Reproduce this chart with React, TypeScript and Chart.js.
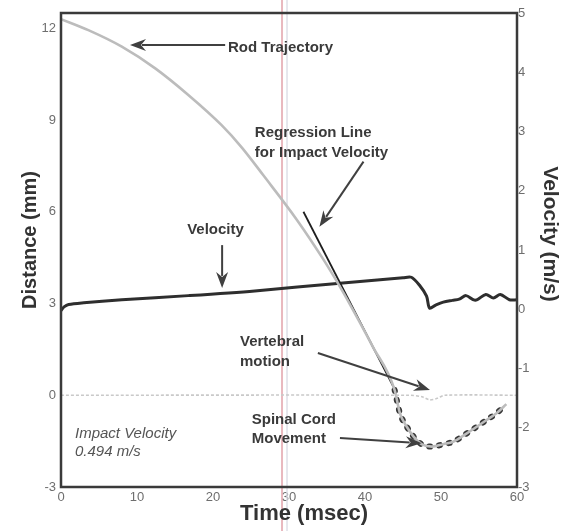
import React, { useEffect, useRef } from "react";
import { Chart, registerables } from "chart.js";

Chart.register(...registerables);

// ---- data ----
const rodTime = [0, 3.6, 8.0, 12.4, 16.75, 21.1, 23.8, 26.6, 31.0, 34.5, 36.7, 38.0, 41.0, 43.9];
const rodMm = [12.3, 11.94, 11.4, 10.69, 9.82, 8.84, 8.1, 7.2, 5.75, 4.45, 3.55, 2.98, 1.6, 0.17];

const spinalTime = [43.9, 44.6, 45.5, 46.4, 47.5, 48.8, 50.3, 51.6, 53.4, 54.7, 56.0, 57.3, 58.6];
const spinalMm = [0.17, -0.59, -1.03, -1.355, -1.61, -1.68, -1.6, -1.52, -1.245, -1.03, -0.81, -0.59, -0.29];

const regressionTime = [31.9, 43.9];
const regressionMm = [6.0, 0.2];

const vertebralTime = [0, 46, 47.5, 48.5, 49.5, 50.5, 60];
const vertebralMm = [0, 0, -0.05, -0.15, -0.1, 0, 0];

const velocityTime = [0, 0.4, 1, 3, 8, 16.75, 25.5, 36.7, 45, 46.1, 47.2, 48.1, 48.5, 49.3, 50.3, 51.5, 52.4, 53.3, 54.5, 55.9, 56.9, 57.8, 59.0, 60];
const velocityMs = [-0.02, 0.04, 0.08, 0.11, 0.16, 0.23, 0.31, 0.44, 0.53, 0.54, 0.4, 0.22, 0.02, 0.07, 0.12, 0.15, 0.17, 0.23, 0.15, 0.25, 0.19, 0.25, 0.16, 0.16];

const timeTicks = [0, 10, 20, 30, 40, 50, 60];
const distanceTicks = [-3, 0, 3, 6, 9, 12];
const velocityTicks = [-3, -2, -1, 0, 1, 2, 3, 4, 5];

// annotation texts (anchored in data units: time, mm)
const labelTexts = ["Rod Trajectory", "Regression Line", "for Impact Velocity", "Velocity", "Vertebral", "motion", "Spinal Cord", "Movement"];
const labelTime = [21.97, 25.5, 25.5, 16.6, 23.55, 23.55, 25.1, 25.1];
const labelMm = [11.36, 8.58, 7.92, 5.4, 1.74, 1.09, -0.81, -1.42];

const noteTexts = ["Impact Velocity", "0.494 m/s"];
const noteTime = [1.84, 1.84];
const noteMm = [-1.27, -1.86];

// arrows: tail -> head (data units)
const arrowFromTime = [21.6, 39.8, 21.2, 33.8, 36.7];
const arrowFromMm = [11.45, 7.64, 4.91, 1.38, -1.4];
const arrowToTime = [9.08, 34.0, 21.2, 48.55, 47.45];
const arrowToMm = [11.45, 5.51, 3.51, 0.17, -1.57];

const scanLineTime = [29.08, 29.74];

const FONT = "'Liberation Sans', Arial, Helvetica, sans-serif";

const pts = (xs: number[], ys: number[]) => xs.map((x, i) => ({ x, y: ys[i] }));

export default function App() {
  const ref = useRef<HTMLCanvasElement>(null);

  useEffect(() => {
    const canvas = ref.current!;

    const decor = {
      id: "decor",
      beforeDatasetsDraw(chart: any) {
        const { ctx, scales } = chart;
        ctx.save();
        const xs = scales.x;
        ctx.lineWidth = 2;
        ctx.strokeStyle = "rgba(225,160,168,0.75)";
        let px = xs.getPixelForValue(scanLineTime[0]);
        ctx.beginPath();
        ctx.moveTo(px, 0);
        ctx.lineTo(px, chart.height);
        ctx.stroke();
        ctx.strokeStyle = "rgba(220,220,228,0.7)";
        px = xs.getPixelForValue(scanLineTime[1]);
        ctx.beginPath();
        ctx.moveTo(px, 0);
        ctx.lineTo(px, chart.height);
        ctx.stroke();
        ctx.restore();
      },
      afterDraw(chart: any) {
        const { ctx, chartArea, scales } = chart;
        const xs = scales.x;
        const ys = scales.y;
        ctx.save();
        // frame
        ctx.strokeStyle = "#3a3a3a";
        ctx.lineWidth = 2.5;
        ctx.strokeRect(chartArea.left, chartArea.top, chartArea.right - chartArea.left, chartArea.bottom - chartArea.top);

        // annotations
        ctx.fillStyle = "#3a3a3a";
        ctx.font = `bold 15px ${FONT}`;
        ctx.textAlign = "left";
        ctx.textBaseline = "middle";
        labelTexts.forEach((t, i) => {
          ctx.fillText(t, xs.getPixelForValue(labelTime[i]), ys.getPixelForValue(labelMm[i]));
        });
        ctx.fillStyle = "#555";
        ctx.font = `italic 15px ${FONT}`;
        noteTexts.forEach((t, i) => {
          ctx.fillText(t, xs.getPixelForValue(noteTime[i]), ys.getPixelForValue(noteMm[i]));
        });

        // arrows
        ctx.strokeStyle = "#404040";
        ctx.fillStyle = "#404040";
        ctx.lineWidth = 2;
        arrowFromTime.forEach((_, i) => {
          const x1 = xs.getPixelForValue(arrowFromTime[i]);
          const y1 = ys.getPixelForValue(arrowFromMm[i]);
          const x2 = xs.getPixelForValue(arrowToTime[i]);
          const y2 = ys.getPixelForValue(arrowToMm[i]);
          const ang = Math.atan2(y2 - y1, x2 - x1);
          const len = 16;
          const hw = 6;
          const bx = x2 - len * Math.cos(ang);
          const by = y2 - len * Math.sin(ang);
          ctx.beginPath();
          ctx.moveTo(x1, y1);
          ctx.lineTo(bx + 4 * Math.cos(ang), by + 4 * Math.sin(ang));
          ctx.stroke();
          ctx.beginPath();
          ctx.moveTo(x2, y2);
          ctx.lineTo(bx - hw * Math.sin(ang), by + hw * Math.cos(ang));
          ctx.lineTo(bx + 5 * Math.cos(ang), by + 5 * Math.sin(ang));
          ctx.lineTo(bx + hw * Math.sin(ang), by - hw * Math.cos(ang));
          ctx.closePath();
          ctx.fill();
        });

        // axis titles
        ctx.fillStyle = "#333";
        ctx.textAlign = "center";
        ctx.textBaseline = "middle";
        const cx = (chartArea.left + chartArea.right) / 2;
        const cy = (chartArea.top + chartArea.bottom) / 2;
        ctx.font = `bold 22px ${FONT}`;
        ctx.fillText("Time (msec)", cx + 15, chartArea.bottom + 27);
        ctx.font = `bold 20px ${FONT}`;
        ctx.save();
        ctx.translate(chartArea.left - 31, cy - 10);
        ctx.rotate(-Math.PI / 2);
        ctx.fillText("Distance (mm)", 0, 0);
        ctx.restore();
        ctx.font = `bold 21px ${FONT}`;
        ctx.save();
        ctx.translate(chartArea.right + 33, cy - 16);
        ctx.rotate(Math.PI / 2);
        ctx.fillText("Velocity (m/s)", 0, 0);
        ctx.restore();
        ctx.restore();
      },
    };

    const tickFont = { family: FONT, size: 13 };
    const tickColor = "#6e6e6e";

    const chart = new Chart(canvas, {
      type: "line",
      data: {
        datasets: [
          {
            label: "Vertebral motion",
            data: pts(vertebralTime, vertebralMm),
            yAxisID: "y",
            borderColor: "#c9c9c9",
            borderWidth: 1.6,
            borderDash: [3, 2],
            pointRadius: 0,
            tension: 0.3,
          },
          {
            label: "Rod Trajectory",
            data: pts(rodTime.concat(spinalTime.slice(1)), rodMm.concat(spinalMm.slice(1))),
            yAxisID: "y",
            borderColor: "#bcbcbc",
            borderWidth: 2.6,
            pointRadius: 0,
            cubicInterpolationMode: "monotone",
          },
          {
            label: "Spinal Cord Movement",
            data: pts(spinalTime, spinalMm),
            yAxisID: "y",
            borderColor: "#383838",
            borderWidth: 6,
            borderDash: [1, 9],
            borderCapStyle: "round",
            pointRadius: 0,
            cubicInterpolationMode: "monotone",
          },
          {
            label: "Regression Line",
            data: pts(regressionTime, regressionMm),
            yAxisID: "y",
            borderColor: "#1e1e1e",
            borderWidth: 1.8,
            pointRadius: 0,
          },
          {
            label: "Velocity",
            data: pts(velocityTime, velocityMs),
            yAxisID: "y2",
            borderColor: "#2e2e2e",
            borderWidth: 3,
            pointRadius: 0,
            tension: 0.3,
          },
        ],
      },
      options: {
        animation: false,
        responsive: false,
        devicePixelRatio: 1,
        layout: { padding: { top: 13, left: 0, right: 0, bottom: 0 } },
        plugins: { legend: { display: false }, tooltip: { enabled: false } },
        scales: {
          x: {
            type: "linear",
            min: 0,
            max: 60,
            afterBuildTicks: (s: any) => {
              s.ticks = timeTicks.map((v) => ({ value: v }));
            },
            afterFit: (s: any) => {
              s.height = 44;
            },
            ticks: { color: tickColor, font: tickFont, padding: 3, maxRotation: 0, autoSkip: false },
            grid: { display: false, drawTicks: false },
            border: { display: false },
          },
          y: {
            type: "linear",
            position: "left",
            min: -3,
            max: 12.5,
            afterBuildTicks: (s: any) => {
              s.ticks = distanceTicks.map((v) => ({ value: v }));
            },
            afterFit: (s: any) => {
              s.width = 61;
            },
            ticks: { color: tickColor, font: tickFont, padding: 5, autoSkip: false },
            grid: { display: false, drawTicks: false },
            border: { display: false },
          },
          y2: {
            type: "linear",
            position: "right",
            min: -3,
            max: 5,
            afterBuildTicks: (s: any) => {
              s.ticks = velocityTicks.map((v) => ({ value: v }));
            },
            afterFit: (s: any) => {
              s.width = 44;
            },
            ticks: { color: tickColor, font: tickFont, padding: 1, autoSkip: false },
            grid: { display: false, drawTicks: false },
            border: { display: false },
          },
        },
      },
      plugins: [decor],
    } as any);

    return () => chart.destroy();
  }, []);

  return (
    <div style={{ position: "fixed", left: 0, top: 0, width: 561, height: 531, background: "#fff" }}>
      <canvas ref={ref} width={561} height={531} style={{ display: "block" }} />
    </div>
  );
}
